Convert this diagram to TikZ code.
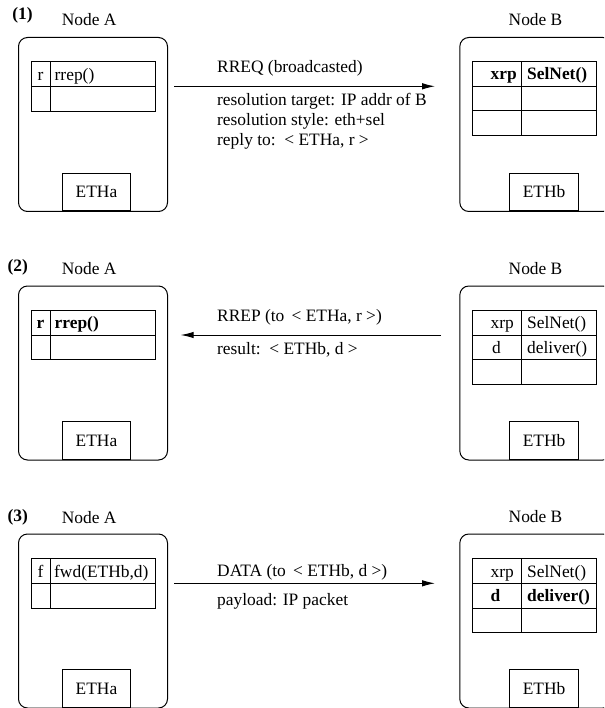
\documentclass[tikz,border=0pt]{standalone}
\usepackage{fontspec}
\setmainfont{Liberation Serif}
\usetikzlibrary{arrows.meta}

\tikzset{
  every node/.style={font=\fontsize{17.4}{20}\selectfont, inner sep=0pt},
  hostbox/.style={draw, rounded corners=9pt, line width=1pt, minimum width=149pt, minimum height=174pt, anchor=north west},
  hostboxb/.style={hostbox, minimum width=152pt},
  ethbox/.style={draw, line width=1pt, minimum width=68.6pt, minimum height=37.2pt, anchor=south west},
  grid/.style={line width=1pt},
  msg/.style={line width=1pt, -{Latex[length=13pt, width=6.5pt]}},
  lbl/.style={anchor=west},
  cellk/.style={anchor=base},
  cellv/.style={anchor=base west},
  cellbk/.style={anchor=base west},
}

\begin{document}
\begin{tikzpicture}[x=1pt, y=-1pt]
\clip (0,0) rectangle (604,708);

% ================= Panel 1 =================
\begin{scope}[shift={(0,37)}]
  \node at (22.5,-22) (p1) {\textbf{(1)}};
  \node at (89.2,-17.8) (na1) {Node A};
  \node at (535.5,-17.5) (nb1) {Node B};
  \node[hostbox] (A1) at (18,0) {};
  \node[hostboxb] (B1) at (459.3,0) {};
  % table A
  \draw[grid] (31,24.8) rectangle (155.7,74.2);
  \draw[grid] (31,49.6) -- (155.7,49.6);
  \draw[grid] (50,24.8) -- (50,74.2);
  \node[cellk] (ka1) at (40.5,43.1) {r};
  \node[cellv] (va1) at (54.5,43.1) {rrep()};
  % table B
  \draw[grid] (472.3,24.5) rectangle (596,98.6);
  \draw[grid] (472.3,49.2) -- (596,49.2);
  \draw[grid] (472.3,73.9) -- (596,73.9);
  \draw[grid] (521.7,24.5) -- (521.7,98.6);
  \node[cellbk] (kb1) at (490.5,42.7) {\textbf{xrp}};
  \node[cellv] (vb1) at (527,42.7) {\textbf{SelNet()}};
  % eth
  \node[ethbox] (ea1) at (61.7,174) {ETHa};
  \node[ethbox] (eb1) at (509.3,174) {ETHb};
  % message
  \coordinate (s1) at (174,49.3);
  \coordinate (t1) at (435,49.3);
  \draw[msg] (s1) -- (t1);
  \node[lbl] (m1a) at (217,31.3) {RREQ (broadcasted)};
  \node[lbl] (m1b) at (217,64.2) {resolution target: IP addr of B};
  \node[lbl] (m1c) at (217,84.3) {resolution style: eth+sel};
  \node[lbl] (m1d) at (217,104.8) {reply to: \,< ETHa, r >};
\end{scope}

% ================= Panel 2 =================
\begin{scope}[shift={(0,285.5)}]
  \node at (17.8,-18) (p2) {\textbf{(2)}};
  \node at (89.2,-16.7) (na2) {Node A};
  \node at (535.5,-17) (nb2) {Node B};
  \node[hostbox] (A2) at (18,0) {};
  \node[hostboxb] (B2) at (459.3,0) {};
  % table A
  \draw[grid] (31,24.8) rectangle (155.7,74.2);
  \draw[grid] (31,49.6) -- (155.7,49.6);
  \draw[grid] (50,24.8) -- (50,74.2);
  \node[cellk] (ka2) at (40.5,43.1) {\textbf{r}};
  \node[cellv] (va2) at (54.5,43.1) {\textbf{rrep()}};
  % table B
  \draw[grid] (472.3,24.8) rectangle (596,98.9);
  \draw[grid] (472.3,49.5) -- (596,49.5);
  \draw[grid] (472.3,74.2) -- (596,74.2);
  \draw[grid] (521.7,24.8) -- (521.7,98.9);
  \node[cellbk] (kb2) at (490.5,43) {xrp};
  \node[cellv] (vb2) at (527,43) {SelNet()};
  \node[cellbk] (kb2b) at (492,67.7) {d};
  \node[cellv] (vb2b) at (527,67.7) {deliver()};
  % eth
  \node[ethbox] (ea2) at (61.7,174) {ETHa};
  \node[ethbox] (eb2) at (509.3,174) {ETHb};
  % message
  \coordinate (s2) at (441,49.5);
  \coordinate (t2) at (180.7,49.5);
  \draw[msg] (s2) -- (t2);
  \node[lbl] (m2a) at (217,31.8) {RREP (to \,< ETHa, r >)};
  \node[lbl] (m2b) at (217,64.5) {result: \,< ETHb, d >};
\end{scope}

% ================= Panel 3 =================
\begin{scope}[shift={(0,533.5)}]
  \node at (17.8,-16.5) (p3) {\textbf{(3)}};
  \node at (89.2,-16) (na3) {Node A};
  \node at (535.5,-16.5) (nb3) {Node B};
  \node[hostbox] (A3) at (18,0) {};
  \node[hostboxb] (B3) at (459.3,0) {};
  % table A
  \draw[grid] (31,25.3) rectangle (155.7,74.7);
  \draw[grid] (31,50) -- (155.7,50);
  \draw[grid] (50,25.3) -- (50,74.7);
  \node[cellk] (ka3) at (40.5,43.5) {f};
  \node[cellv] (va3) at (54,43.5) {fwd(ETHb,d)};
  % table B
  \draw[grid] (472.3,25.3) rectangle (596,99.2);
  \draw[grid] (472.3,50) -- (596,50);
  \draw[grid] (472.3,74.7) -- (596,74.7);
  \draw[grid] (521.7,25.3) -- (521.7,99.2);
  \node[cellbk] (kb3) at (490.5,43.5) {xrp};
  \node[cellv] (vb3) at (527,43.5) {SelNet()};
  \node[cellbk] (kb3b) at (490.5,68.2) {\textbf{d}};
  \node[cellv] (vb3b) at (527,68.2) {\textbf{deliver()}};
  % eth
  \node[ethbox] (ea3) at (61.7,174) {ETHa};
  \node[ethbox] (eb3) at (509.3,174) {ETHb};
  % message
  \coordinate (s3) at (174,49.8);
  \coordinate (t3) at (435,49.8);
  \draw[msg] (s3) -- (t3);
  \node[lbl] (m3a) at (217,38.5) {DATA (to \,< ETHb, d >)};
  \node[lbl] (m3b) at (217,67.5) {payload: IP packet};
\end{scope}
\end{tikzpicture}
\end{document}
